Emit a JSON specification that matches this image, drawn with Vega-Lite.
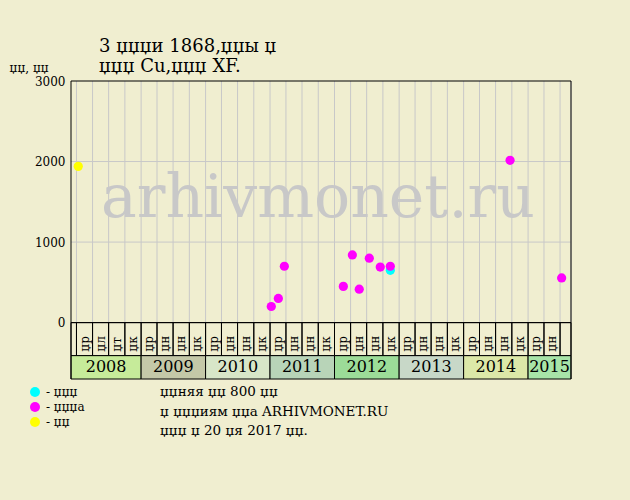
{
  "$schema": "https://vega.github.io/schema/vega-lite/v6.json",
  "width": 500,
  "height": 298,
  "autosize": {"type": "none"},
  "padding": {"left": 71, "top": 81, "right": 59, "bottom": 121},
  "background": "#F0EED0",
  "config": {"view": {"stroke": null}, "font": "DejaVu Serif"},
  "title": {
    "text": ["3 џџџи 1868,џџы џ", "џџџ Cu,џџџ XF."],
    "anchor": "start",
    "frame": "group",
    "dx": 28,
    "offset": -15,
    "fontSize": 18,
    "fontWeight": "normal",
    "font": "DejaVu Serif",
    "lineHeight": 20,
    "color": "black"
  },
  "datasets": {
    "points": [
      {"d": "2012-11-12", "v": 650, "t": "џџџ"},
      {"d": "2008-01-11", "v": 1940, "t": "џџ"},
      {"d": "2011-01-08", "v": 200, "t": "џџџа"},
      {"d": "2011-02-17", "v": 300, "t": "џџџа"},
      {"d": "2011-03-23", "v": 700, "t": "џџџа"},
      {"d": "2012-02-20", "v": 450, "t": "џџџа"},
      {"d": "2012-04-11", "v": 840, "t": "џџџа"},
      {"d": "2012-05-20", "v": 415, "t": "џџџа"},
      {"d": "2012-07-16", "v": 800, "t": "џџџа"},
      {"d": "2012-09-16", "v": 690, "t": "џџџа"},
      {"d": "2012-11-12", "v": 700, "t": "џџџа"},
      {"d": "2014-09-21", "v": 2015, "t": "џџџа"},
      {"d": "2015-07-10", "v": 555, "t": "џџџа"}
    ],
    "quarters": [
      {"s": "2007-12-01", "e": "2008-01-01", "q": ""},
      {"s": "2008-01-01", "e": "2008-04-01", "q": "џр"},
      {"s": "2008-04-01", "e": "2008-07-01", "q": "џл"},
      {"s": "2008-07-01", "e": "2008-10-01", "q": "џт"},
      {"s": "2008-10-01", "e": "2009-01-01", "q": "џк"},
      {"s": "2009-01-01", "e": "2009-04-01", "q": "џр"},
      {"s": "2009-04-01", "e": "2009-07-01", "q": "џн"},
      {"s": "2009-07-01", "e": "2009-10-01", "q": "џн"},
      {"s": "2009-10-01", "e": "2010-01-01", "q": "џк"},
      {"s": "2010-01-01", "e": "2010-04-01", "q": "џр"},
      {"s": "2010-04-01", "e": "2010-07-01", "q": "џн"},
      {"s": "2010-07-01", "e": "2010-10-01", "q": "џн"},
      {"s": "2010-10-01", "e": "2011-01-01", "q": "џк"},
      {"s": "2011-01-01", "e": "2011-04-01", "q": "џр"},
      {"s": "2011-04-01", "e": "2011-07-01", "q": "џн"},
      {"s": "2011-07-01", "e": "2011-10-01", "q": "џн"},
      {"s": "2011-10-01", "e": "2012-01-01", "q": "џк"},
      {"s": "2012-01-01", "e": "2012-04-01", "q": "џр"},
      {"s": "2012-04-01", "e": "2012-07-01", "q": "џн"},
      {"s": "2012-07-01", "e": "2012-10-01", "q": "џн"},
      {"s": "2012-10-01", "e": "2013-01-01", "q": "џк"},
      {"s": "2013-01-01", "e": "2013-04-01", "q": "џр"},
      {"s": "2013-04-01", "e": "2013-07-01", "q": "џн"},
      {"s": "2013-07-01", "e": "2013-10-01", "q": "џн"},
      {"s": "2013-10-01", "e": "2014-01-01", "q": "џк"},
      {"s": "2014-01-01", "e": "2014-04-01", "q": "џр"},
      {"s": "2014-04-01", "e": "2014-07-01", "q": "џн"},
      {"s": "2014-07-01", "e": "2014-10-01", "q": "џн"},
      {"s": "2014-10-01", "e": "2015-01-01", "q": "џк"},
      {"s": "2015-01-01", "e": "2015-04-01", "q": "џр"},
      {"s": "2015-04-01", "e": "2015-07-01", "q": "џн"},
      {"s": "2015-07-01", "e": "2015-09-01", "q": ""}
    ],
    "years": [
      {"year": "2008", "s": "2007-12-01", "e": "2009-01-01"},
      {"year": "2009", "s": "2009-01-01", "e": "2010-01-01"},
      {"year": "2010", "s": "2010-01-01", "e": "2011-01-01"},
      {"year": "2011", "s": "2011-01-01", "e": "2012-01-01"},
      {"year": "2012", "s": "2012-01-01", "e": "2013-01-01"},
      {"year": "2013", "s": "2013-01-01", "e": "2014-01-01"},
      {"year": "2014", "s": "2014-01-01", "e": "2015-01-01"},
      {"year": "2015", "s": "2015-01-01", "e": "2015-09-01"}
    ]
  },
  "layer": [
    {
      "data": {"values": [{"g": 1000}, {"g": 2000}]},
      "mark": {"type": "rule", "color": "#C8C8C8", "strokeWidth": 1},
      "encoding": {
        "y": {
          "field": "g", "type": "quantitative",
          "scale": {"domain": [-700, 3000], "nice": false, "zero": false},
          "axis": {
            "values": [0, 1000, 2000, 3000], "format": "d", "grid": false, "domain": false, "ticks": false,
            "labelPadding": 6, "labelFontSize": 12, "labelFont": "DejaVu Serif", "labelColor": "black",
            "labelFlush": false, "labelOverlap": false,
            "title": "џџ, џџ", "titleAngle": 0, "titleAlign": "left", "titleBaseline": "alphabetic",
            "titleX": -62, "titleY": -10, "titleFontSize": 12, "titleFont": "DejaVu Serif",
            "titleFontWeight": "normal", "titleColor": "black"
          }
        }
      }
    },
    {
      "data": {"name": "quarters"},
      "mark": {"type": "rule", "color": "#C8C8C8", "strokeWidth": 1},
      "encoding": {
        "x": {
          "field": "e", "type": "temporal", "axis": null,
          "scale": {"type": "utc", "domain": [{"year": 2007, "month": 12, "date": 1, "utc": true}, {"year": 2015, "month": 9, "date": 1, "utc": true}]}
        },
        "y": {"datum": 0, "type": "quantitative"},
        "y2": {"datum": 3000}
      }
    },
    {
      "data": {"values": [{}]},
      "mark": {"type": "text", "fontSize": 60, "font": "DejaVu Serif", "color": "#C8C8C8", "align": "center", "baseline": "alphabetic"},
      "encoding": {
        "x": {"datum": {"year": 2011, "month": 9, "date": 29, "utc": true}, "type": "temporal", "axis": null},
        "y": {"datum": 1315, "type": "quantitative"},
        "text": {"value": "arhivmonet.ru"}
      }
    },
    {
      "data": {"name": "quarters"},
      "mark": {"type": "rect", "fillOpacity": 0, "stroke": "black", "strokeWidth": 1},
      "encoding": {
        "x": {"field": "s", "type": "temporal", "axis": null},
        "x2": {"field": "e"},
        "y": {"datum": -410, "type": "quantitative"},
        "y2": {"datum": 0}
      }
    },
    {
      "data": {"name": "quarters"},
      "mark": {"type": "text", "angle": 270, "align": "left", "baseline": "middle", "fontSize": 12, "font": "DejaVu Serif", "color": "black", "dx": 4},
      "encoding": {
        "x": {"field": "s", "timeUnit": "utcyearquarter", "type": "temporal", "bandPosition": 0.5, "axis": null},
        "y": {"datum": -410, "type": "quantitative"},
        "text": {"field": "q", "type": "nominal"}
      }
    },
    {
      "data": {"name": "years", "format": {"parse": {"s": "date", "e": "date"}}},
      "mark": {"type": "rect", "stroke": "black", "strokeWidth": 1},
      "encoding": {
        "x": {"field": "s", "type": "temporal", "axis": null},
        "x2": {"field": "e"},
        "y": {"datum": -700, "type": "quantitative"},
        "y2": {"datum": -410},
        "fill": {
          "field": "year", "type": "nominal", "legend": null,
          "scale": {
            "domain": ["2008", "2009", "2010", "2011", "2012", "2013", "2014", "2015"],
            "range": ["#C6EB9A", "#C4C8A8", "#D8E6C8", "#B8D4B8", "#9CDC98", "#C8D8C8", "#DCE8A8", "#A8E4A8"]
          }
        }
      }
    },
    {
      "data": {"name": "years", "format": {"parse": {"s": "date", "e": "date"}}},
      "transform": [{"fold": ["s", "e"], "as": ["k", "d"]}],
      "mark": {"type": "text", "fontSize": 16, "font": "DejaVu Serif", "color": "black", "align": "center", "baseline": "middle", "clip": true},
      "encoding": {
        "x": {"aggregate": "mean", "field": "d", "type": "temporal", "axis": null},
        "y": {"datum": -555, "type": "quantitative"},
        "text": {"field": "year", "type": "nominal"}
      }
    },
    {
      "data": {"values": [{}]},
      "mark": {"type": "rule", "color": "black", "strokeWidth": 1},
      "encoding": {"y": {"datum": 3000, "type": "quantitative"}}
    },
    {
      "data": {"values": [{}]},
      "mark": {"type": "rule", "color": "black", "strokeWidth": 1},
      "encoding": {"y": {"datum": 0, "type": "quantitative"}}
    },
    {
      "data": {"values": [{}]},
      "mark": {"type": "rule", "color": "black", "strokeWidth": 1},
      "encoding": {"x": {"datum": {"year": 2007, "month": 12, "date": 1, "utc": true}, "type": "temporal", "axis": null}}
    },
    {
      "data": {"values": [{}]},
      "mark": {"type": "rule", "color": "black", "strokeWidth": 1},
      "encoding": {"x": {"datum": {"year": 2015, "month": 9, "date": 1, "utc": true}, "type": "temporal", "axis": null}}
    },
    {
      "data": {"name": "points"},
      "mark": {"type": "circle", "size": 85, "opacity": 1},
      "encoding": {
        "x": {"field": "d", "type": "temporal", "axis": null},
        "y": {"field": "v", "type": "quantitative"},
        "color": {
          "field": "t", "type": "nominal",
          "scale": {"domain": ["џџџ", "џџџа", "џџ"], "range": ["#00FFFF", "#FF00FF", "#FFFF00"]},
          "legend": {
            "orient": "none", "legendX": -42, "legendY": 305, "title": null,
            "labelExpr": "'- ' + datum.label", "symbolType": "circle", "symbolSize": 100,
            "symbolStrokeWidth": 0, "labelFontSize": 12, "labelFont": "DejaVu Serif", "labelColor": "black",
            "rowPadding": 3, "padding": 0, "labelOffset": 5
          }
        }
      }
    },
    {
      "data": {"values": [{}]},
      "mark": {"type": "text", "fontSize": 13.5, "font": "DejaVu Serif", "color": "black", "align": "left", "baseline": "alphabetic", "lineHeight": 19.8},
      "encoding": {
        "x": {"datum": {"year": 2009, "month": 4, "date": 18, "utc": true}, "type": "temporal", "axis": null},
        "y": {"datum": -908, "type": "quantitative"},
        "text": {"value": ["џџняя џџ 800 џџ", "џ џџџиям џџа ARHIVMONET.RU", "џџџ џ 20 џя 2017 џџ."]}
      }
    }
  ]
}
